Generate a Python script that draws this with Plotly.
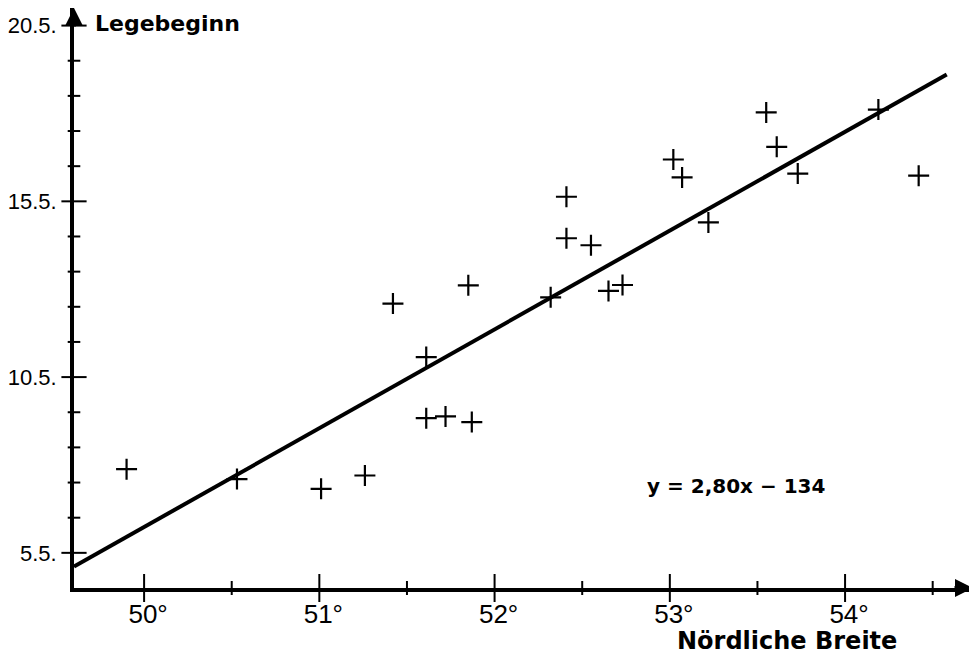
import numpy as np
import plotly.graph_objects as go

# ---- data ----
latitude = [49.90, 50.53, 51.01, 51.26, 51.42, 51.61, 51.61, 51.72, 51.87, 51.85,
            52.32, 52.41, 52.41, 52.55, 52.65, 52.73, 53.02, 53.07, 53.22, 53.55,
            53.61, 53.73, 54.19, 54.42]
laying_start = [7.88, 7.60, 7.32, 7.70, 12.59, 11.07, 9.33, 9.38, 9.22, 13.11,
                12.77, 15.63, 14.45, 14.25, 12.95, 13.12, 16.69, 16.18, 14.90, 18.03,
                17.05, 16.29, 18.11, 16.23]
fit_x = [49.60, 54.58]
fit_y = [5.11, 19.11]

x_tickvals = [50, 51, 52, 53, 54]
x_ticktext = ["50°", "51°", "52°", "53°", "54°"]
x_minor = [50.5, 51.5, 52.5, 53.5, 54.5]
y_tickvals = [5.5, 10.5, 15.5, 20.5]
y_ticktext = ["5.5.", "10.5.", "15.5.", "20.5."]
y_minor = [v for v in np.arange(6.5, 20.0, 1.0) if v not in y_tickvals]

equation = "y = 2,80x − 134"
y_title = "Legebeginn"
x_title = "Nördliche Breite"

X0, X1 = 49.6, 54.73
Y0, Y1 = 4.5, 21.0

fig = go.Figure()

# regression line
fig.add_trace(go.Scatter(x=fit_x, y=fit_y, mode="lines",
                         line=dict(color="black", width=4), hoverinfo="skip"))
# data points
fig.add_trace(go.Scatter(x=latitude, y=laying_start, mode="markers",
                         marker=dict(symbol="cross-thin", size=15,
                                     line=dict(color="black", width=2.2)),
                         hoverinfo="skip"))

# tick marks crossing the axes
fig.add_trace(go.Scatter(x=x_tickvals, y=[Y0] * len(x_tickvals), mode="markers",
                         marker=dict(symbol="line-ns", size=20,
                                     line=dict(color="black", width=2)),
                         cliponaxis=False, hoverinfo="skip"))
fig.add_trace(go.Scatter(x=x_minor, y=[Y0] * len(x_minor), mode="markers",
                         marker=dict(symbol="line-ns", size=10,
                                     line=dict(color="black", width=2)),
                         cliponaxis=False, hoverinfo="skip"))
fig.add_trace(go.Scatter(x=[X0] * len(y_tickvals), y=y_tickvals, mode="markers",
                         marker=dict(symbol="line-ew", size=18,
                                     line=dict(color="black", width=2)),
                         cliponaxis=False, hoverinfo="skip"))
fig.add_trace(go.Scatter(x=[X0] * len(y_minor), y=y_minor, mode="markers",
                         marker=dict(symbol="line-ew", size=9,
                                     line=dict(color="black", width=2)),
                         cliponaxis=False, hoverinfo="skip"))

fig.update_layout(
    width=969, height=650,
    margin=dict(l=60, r=4, t=0, b=70),
    paper_bgcolor="white", plot_bgcolor="white",
    showlegend=False,
    xaxis=dict(range=[X0, X1], showgrid=False, zeroline=False,
               showline=True, linecolor="black", linewidth=4,
               tickvals=x_tickvals, ticktext=x_ticktext, ticks="",
               ticklabelstandoff=0, ticklabelshift=4,
               tickfont=dict(family="Liberation Sans", size=26, color="black")),
    yaxis=dict(range=[Y0, Y1], showgrid=False, zeroline=False,
               showline=True, linecolor="black", linewidth=4,
               tickvals=y_tickvals, ticktext=y_ticktext, ticks="",
               ticklabelstandoff=9,
               tickfont=dict(family="Liberation Sans", size=22, color="black")),
    annotations=[
        dict(x=X0, y=Y1, xref="x", yref="y", ax=0, ay=20, showarrow=True,
             arrowhead=2, arrowsize=0.9, arrowwidth=4, arrowcolor="black", text=""),
        dict(x=X1, y=Y0, xref="x", yref="y", ax=-20, ay=0, showarrow=True,
             arrowhead=2, arrowsize=0.9, arrowwidth=4, arrowcolor="black", text=""),
        dict(x=49.71, y=20.56, xref="x", yref="y", text=y_title, showarrow=False,
             xanchor="left", yanchor="middle",
             font=dict(family="DejaVu Sans", size=22, color="black", weight="bold")),
        dict(x=53.67, y=-0.092, xref="x", yref="paper", text=x_title, showarrow=False,
             xanchor="center", yanchor="middle",
             font=dict(family="DejaVu Sans", size=24, color="black", weight="bold")),
        dict(x=53.38, y=7.41, xref="x", yref="y", text=equation, showarrow=False,
             xanchor="center", yanchor="middle",
             font=dict(family="DejaVu Sans", size=20, color="black", weight="bold")),
    ],
)

fig.write_html("out.html")
